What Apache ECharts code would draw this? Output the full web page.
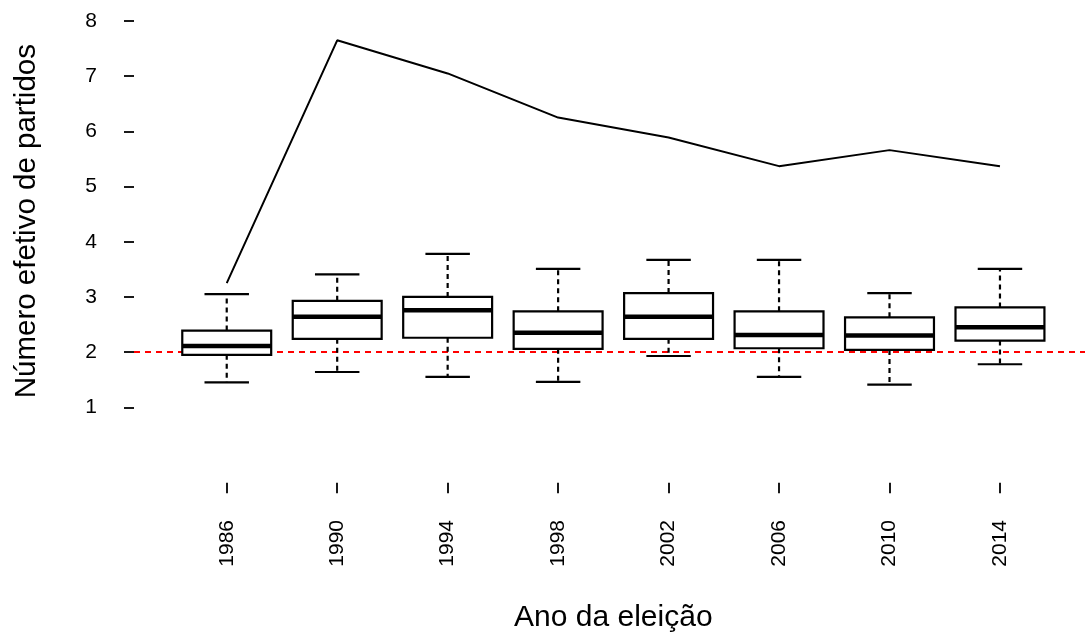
<!DOCTYPE html>
<html>
<head>
<meta charset="utf-8">
<script src="https://cdn.jsdelivr.net/npm/echarts@6/dist/echarts.min.js"></script>
<style>
  html, body { margin: 0; padding: 0; background: #fff; }
  #chart { width: 1085px; height: 637px; }
</style>
</head>
<body>
<div id="chart"></div>
<script>
// ---- data ----
const years = ['1986', '1990', '1994', '1998', '2002', '2006', '2010', '2014'];
const whiskerLow  = [1.45, 1.64, 1.55, 1.46, 1.93, 1.55, 1.41, 1.78];
const quartile1   = [1.95, 2.24, 2.26, 2.06, 2.24, 2.07, 2.04, 2.21];
const medians     = [2.11, 2.64, 2.76, 2.35, 2.64, 2.31, 2.30, 2.45];
const quartile3   = [2.39, 2.93, 3.00, 2.74, 3.07, 2.74, 2.63, 2.81];
const whiskerHigh = [3.05, 3.41, 3.78, 3.51, 3.67, 3.67, 3.07, 3.51];
const maxValues   = [3.25, 7.65, 7.05, 6.25, 5.89, 5.37, 5.66, 5.37];
const yTicks = [1, 2, 3, 4, 5, 6, 7, 8];
const refValue = 2;

const boxData = years.map((y, i) => [i, whiskerLow[i], quartile1[i], medians[i], quartile3[i], whiskerHigh[i]]);

const FONT = "'Liberation Sans', Arial, Helvetica, sans-serif";

const chart = echarts.init(document.getElementById('chart'), null, { renderer: 'canvas' });

function renderBox(params, api) {
  const idx = api.value(0);
  const lo = api.coord([idx, api.value(1)]);
  const q1 = api.coord([idx, api.value(2)]);
  const md = api.coord([idx, api.value(3)]);
  const q3 = api.coord([idx, api.value(4)]);
  const hi = api.coord([idx, api.value(5)]);
  const band = api.size([1, 0])[0];
  const bw = band * 0.805;
  const cw = bw / 2;
  const cx = md[0];
  const solid = { stroke: '#000', lineWidth: 2.2, fill: null };
  const dashed = { stroke: '#000', lineWidth: 2.2, lineDash: [5, 4], fill: null };
  return {
    type: 'group',
    children: [
      { type: 'line', shape: { x1: cx, y1: q3[1], x2: cx, y2: hi[1] }, style: dashed },
      { type: 'line', shape: { x1: cx, y1: q1[1], x2: cx, y2: lo[1] }, style: dashed },
      { type: 'line', shape: { x1: cx - cw / 2, y1: hi[1], x2: cx + cw / 2, y2: hi[1] }, style: solid },
      { type: 'line', shape: { x1: cx - cw / 2, y1: lo[1], x2: cx + cw / 2, y2: lo[1] }, style: solid },
      { type: 'rect', shape: { x: cx - bw / 2, y: q3[1], width: bw, height: q1[1] - q3[1] },
        style: { stroke: '#000', lineWidth: 2.2, fill: '#fff' } },
      { type: 'line', shape: { x1: cx - bw / 2, y1: md[1], x2: cx + bw / 2, y2: md[1] },
        style: { stroke: '#000', lineWidth: 4.5 } }
    ]
  };
}

const option = {
  backgroundColor: '#ffffff',
  animation: false,
  grid: [
    { left: 171.5, right: 29.8, top: 21, bottom: 229.7, outerBoundsMode: 'none', containLabel: false },
    { left: 134, right: 0, top: 21, bottom: 229.7, outerBoundsMode: 'none', containLabel: false }
  ],
  xAxis: [
    {
      type: 'category',
      gridIndex: 0,
      data: years,
      boundaryGap: true,
      offset: 75.4,
      axisLine: { show: false },
      axisTick: { show: true, alignWithLabel: true, length: 10.6, lineStyle: { color: '#000', width: 1.8 } },
      axisLabel: { rotate: 90, margin: 37.3, fontSize: 21, color: '#000', fontFamily: FONT },
      splitLine: { show: false },
      name: 'Ano da eleição',
      nameLocation: 'middle',
      nameGap: 120,
      nameTextStyle: { fontSize: 30, color: '#000', fontFamily: FONT }
    },
    {
      type: 'value', gridIndex: 1, min: 0, max: 1, show: false
    }
  ],
  yAxis: [
    {
      type: 'value',
      gridIndex: 0,
      min: 1, max: 8, interval: 1,
      offset: 37.5,
      axisLine: { show: false },
      axisTick: { show: true, length: 10, lineStyle: { color: '#000', width: 1.8 }, customValues: yTicks },
      axisLabel: { margin: 37, fontSize: 21, color: '#000', fontFamily: FONT, customValues: yTicks },
      splitLine: { show: false },
      name: 'Número efetivo de partidos',
      nameLocation: 'middle',
      nameGap: 92,
      nameTextStyle: { fontSize: 29.5, color: '#000', fontFamily: FONT, padding: [0, 14, 0, 0] }
    },
    {
      type: 'value', gridIndex: 1, min: 1, max: 8, show: false
    }
  ],
  series: [
    {
      type: 'line',
      xAxisIndex: 1, yAxisIndex: 1,
      data: [[0, refValue], [1, refValue]],
      symbol: 'none',
      silent: true,
      z: 1,
      lineStyle: { color: '#ff0000', width: 2, type: [6, 5] }
    },
    {
      type: 'custom',
      xAxisIndex: 0, yAxisIndex: 0,
      data: boxData,
      encode: { x: 0, y: [1, 2, 3, 4, 5] },
      renderItem: renderBox,
      z: 2
    },
    {
      type: 'line',
      xAxisIndex: 0, yAxisIndex: 0,
      data: maxValues,
      symbol: 'none',
      z: 3,
      lineStyle: { color: '#000', width: 2 }
    }
  ]
};

chart.setOption(option);
</script>
</body>
</html>
